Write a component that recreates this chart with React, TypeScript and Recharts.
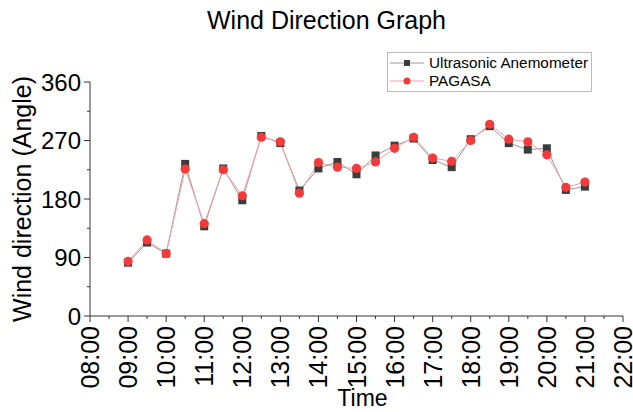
import React from "react";
import { LineChart, Line, XAxis, YAxis } from "recharts";

// time in hours, every half hour from 09:00 to 21:00
const hours = [9, 9.5, 10, 10.5, 11, 11.5, 12, 12.5, 13, 13.5, 14, 14.5, 15, 15.5, 16, 16.5, 17, 17.5, 18, 18.5, 19, 19.5, 20, 20.5, 21];
const ultrasonic = [82, 113, 96, 234, 138, 227, 178, 277, 266, 193, 227, 237, 218, 247, 262, 273, 240, 229, 272, 292, 266, 256, 258, 194, 199];
const pagasa = [84, 117, 96, 226, 142, 225, 185, 275, 268, 189, 236, 229, 227, 237, 258, 275, 243, 238, 270, 295, 272, 268, 248, 198, 206];

const xTicks = [8, 8.5, 9, 9.5, 10, 10.5, 11, 11.5, 12, 12.5, 13, 13.5, 14, 14.5, 15, 15.5, 16, 16.5, 17, 17.5, 18, 18.5, 19, 19.5, 20, 20.5, 21, 21.5, 22];
const yTicks = [0, 45, 90, 135, 180, 225, 270, 315, 360];

const data = hours.map((h, i) => ({ h, ultrasonic: ultrasonic[i], pagasa: pagasa[i] }));

const FONT = "'Liberation Sans', Arial, sans-serif";
const AXIS = "#333";

const fmtHour = (h: number) => `${String(h).padStart(2, "0")}:00`;

const XTick = (props: any) => {
  const { x, y, payload } = props;
  const v = payload.value as number;
  const major = Number.isInteger(v);
  return (
    <g>
      <line x1={x} y1={y} x2={x} y2={y + (major ? 6 : 3)} stroke={AXIS} strokeWidth={1} />
      {major && (
        <text
          x={x}
          y={y + 10}
          transform={`rotate(-90 ${x} ${y + 10})`}
          textAnchor="end"
          dominantBaseline="central"
          fontSize={25}
          fontFamily={FONT}
          fill="#000"
        >
          {fmtHour(v)}
        </text>
      )}
    </g>
  );
};

const YTick = (props: any) => {
  const { x, y, payload } = props;
  const v = payload.value as number;
  const major = v % 90 === 0;
  return (
    <g>
      <line x1={x} y1={y} x2={x - (major ? 6 : 3)} y2={y} stroke={AXIS} strokeWidth={1} />
      {major && (
        <text x={x - 9} y={y} textAnchor="end" dominantBaseline="central" fontSize={24} fontFamily={FONT} fill="#000">
          {v}
        </text>
      )}
    </g>
  );
};

const SquareDot = (props: any) => {
  const { cx, cy, index } = props;
  if (cx == null || cy == null) return <g key={`sq-${index}`} />;
  return <rect key={`sq-${index}`} x={cx - 4} y={cy - 4} width={8} height={8} fill="#3c3c3c" />;
};

const CircleDot = (props: any) => {
  const { cx, cy, index } = props;
  if (cx == null || cy == null) return <g key={`ci-${index}`} />;
  return <circle key={`ci-${index}`} cx={cx} cy={cy} r={4.6} fill="#f53a3a" />;
};

const legendItems = [
  { name: "Ultrasonic Anemometer", line: "#999", mark: "sq" },
  { name: "PAGASA", line: "#f8a0a0", mark: "ci" },
];

const LegendBox = () => (
  <div
    style={{
      position: "absolute",
      left: 387,
      top: 52,
      width: 201,
      height: 37,
      border: "1px solid #bbb",
      background: "#fff",
      padding: "1px 0 0 2px",
      fontFamily: FONT,
      fontSize: 15.3,
      lineHeight: "18px",
      whiteSpace: "nowrap",
    }}
  >
    {legendItems.map((it) => (
      <div key={it.name} style={{ display: "flex", alignItems: "center", height: 18 }}>
        <svg width={34} height={18} style={{ marginRight: 5 }}>
          <line x1={0} y1={9} x2={34} y2={9} stroke={it.line} strokeWidth={1} />
          {it.mark === "sq" ? (
            <rect x={14} y={6} width={6} height={6} fill="#3c3c3c" />
          ) : (
            <circle cx={17} cy={9} r={3.5} fill="#f53a3a" />
          )}
        </svg>
        <span>{it.name}</span>
      </div>
    ))}
  </div>
);

export default function App() {
  return (
    <div style={{ position: "absolute", left: 0, top: 0, width: 633, height: 412, background: "#fff" }}>
      <LineChart width={633} height={412} data={data} margin={{ top: 82, right: 10, left: 0, bottom: 0 }}>
        <XAxis
          dataKey="h"
          type="number"
          domain={[8, 22]}
          ticks={xTicks}
          interval={0}
          tick={<XTick />}
          tickLine={false}
          tickSize={0}
          tickMargin={0}
          height={96}
          stroke={AXIS}
          label={{ value: "Time", position: "insideBottom", offset: 6, dx: 6, fontSize: 23, fontFamily: FONT, fill: "#000" }}
        />
        <YAxis
          type="number"
          domain={[0, 360]}
          ticks={yTicks}
          interval={0}
          tick={<YTick />}
          tickLine={false}
          tickSize={0}
          tickMargin={0}
          width={90}
          stroke={AXIS}
          label={{
            value: "Wind direction (Angle)",
            angle: -90,
            position: "insideLeft",
            dx: 17,
            style: { textAnchor: "middle" },
            fontSize: 25,
            fontFamily: FONT,
            fill: "#000",
          }}
        />
        <Line
          dataKey="ultrasonic"
          name="Ultrasonic Anemometer"
          stroke="#999"
          strokeWidth={1}
          dot={<SquareDot />}
          isAnimationActive={false}
        />
        <Line
          dataKey="pagasa"
          name="PAGASA"
          stroke="#f8a0a0"
          strokeWidth={1}
          dot={<CircleDot />}
          isAnimationActive={false}
        />
      </LineChart>
      <div
        style={{
          position: "absolute",
          left: 10,
          top: 5,
          width: 633,
          textAlign: "center",
          fontFamily: FONT,
          fontSize: 25,
          lineHeight: "30px",
          color: "#000",
        }}
      >
        Wind Direction Graph
      </div>
      <LegendBox />
    </div>
  );
}
